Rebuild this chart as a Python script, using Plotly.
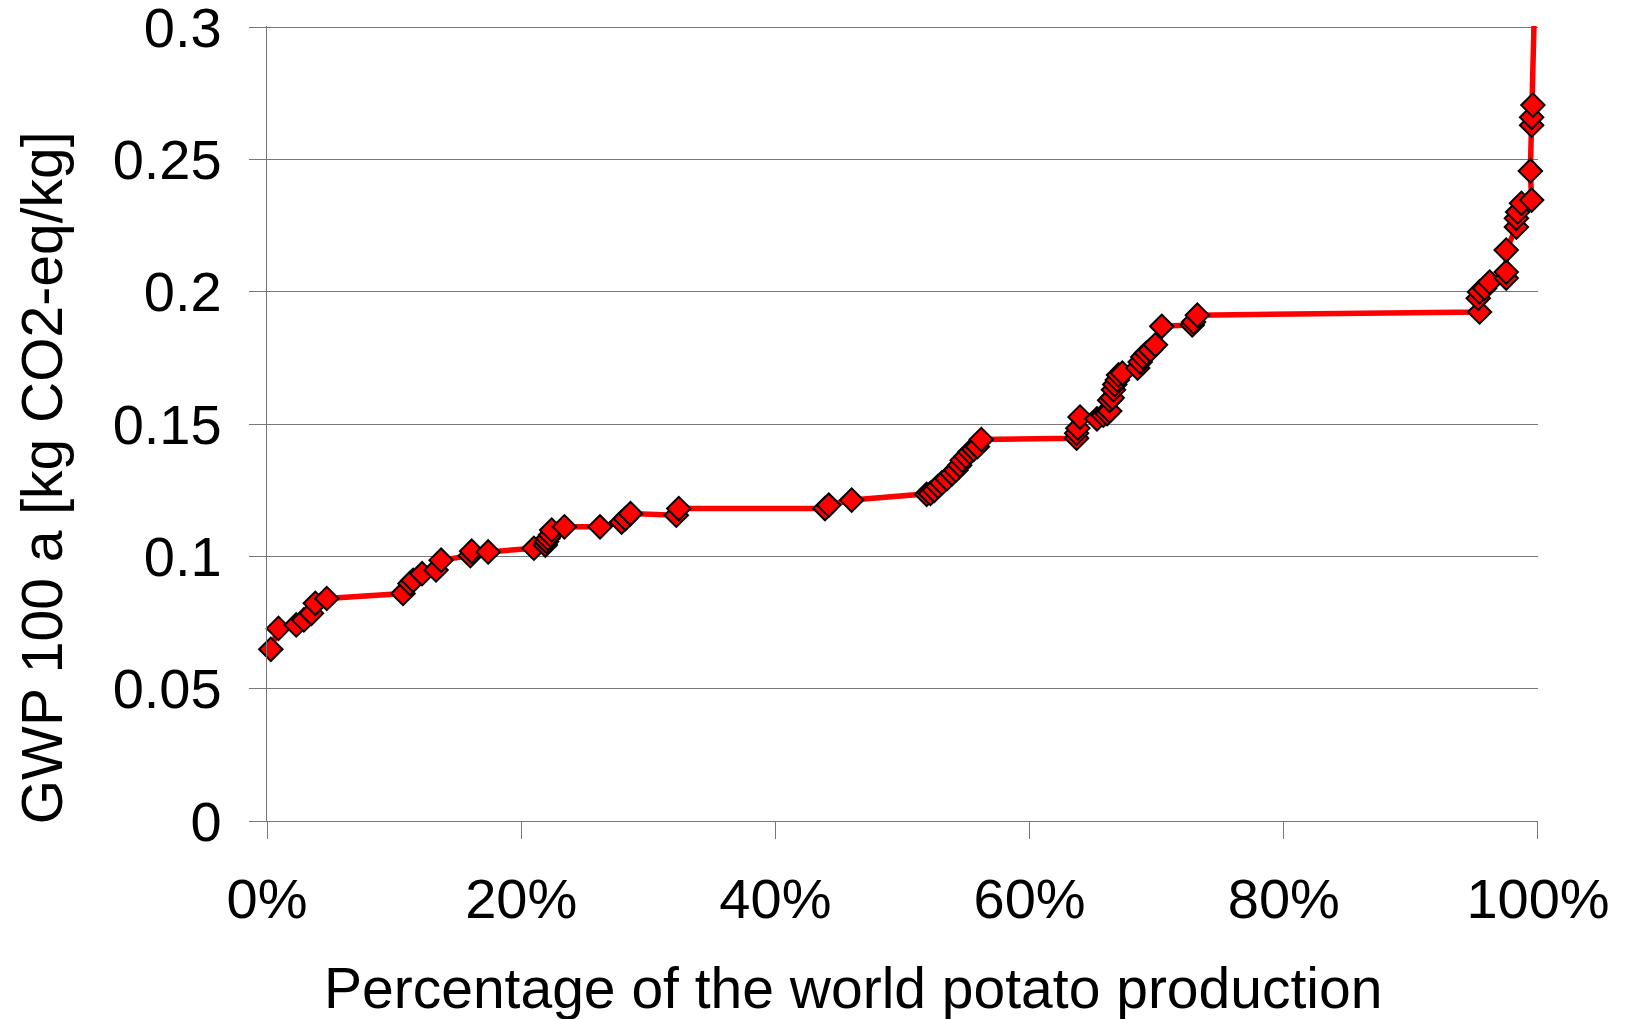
import plotly.graph_objects as go

# Cumulative share of world potato production (fraction, 0-1)
share = [0.003, 0.009, 0.023, 0.029, 0.035, 0.038, 0.047,
         0.107, 0.1125, 0.115, 0.122, 0.133, 0.137, 0.160, 0.161, 0.174,
         0.210, 0.219, 0.220, 0.221, 0.223, 0.224, 0.234, 0.262, 0.279, 0.282, 0.286,
         0.322, 0.324, 0.439, 0.442, 0.460,
         0.519, 0.522, 0.525, 0.528, 0.531, 0.535, 0.539, 0.542, 0.545, 0.547, 0.550,
         0.553, 0.556, 0.559, 0.562,
         0.637, 0.637, 0.638, 0.6397, 0.653, 0.658, 0.661, 0.663, 0.663, 0.665, 0.666,
         0.667, 0.669, 0.670, 0.673, 0.685, 0.687, 0.689, 0.692, 0.695, 0.699, 0.704,
         0.728, 0.729, 0.732,
         0.954, 0.953, 0.954, 0.958, 0.962, 0.975, 0.975, 0.975, 0.983, 0.983, 0.984,
         0.987, 0.995, 0.994, 0.995, 0.995, 0.996]

# GWP 100a [kg CO2-eq/kg]
gwp = [0.0649, 0.0728, 0.0741, 0.0760, 0.0785, 0.0823, 0.0841,
       0.0860, 0.0898, 0.0910, 0.0935, 0.0949, 0.0986, 0.1003, 0.1020, 0.1017,
       0.1031, 0.1043, 0.1056, 0.1068, 0.1081, 0.1100, 0.1112, 0.1112, 0.1130, 0.1143, 0.1162,
       0.1156, 0.1181, 0.1181, 0.1194, 0.1213,
       0.1235, 0.1238, 0.1250, 0.1265, 0.1278, 0.1294, 0.1313, 0.1326, 0.1345, 0.1364, 0.1378,
       0.1395, 0.1405, 0.1415, 0.1442,
       0.1447, 0.1466, 0.1485, 0.1527, 0.1520, 0.1534, 0.1540, 0.1550, 0.1590, 0.1600, 0.1630,
       0.1650, 0.1667, 0.1686, 0.1693, 0.1712, 0.1735, 0.1754, 0.1769, 0.1780, 0.1800, 0.1870,
       0.1875, 0.1886, 0.1912,
       0.1924, 0.1976, 0.2000, 0.2014, 0.2037, 0.2052, 0.2075, 0.2158, 0.2245, 0.2278, 0.2302,
       0.2335, 0.2347, 0.2457, 0.2630, 0.2660, 0.2706]

# Curve continues above the last marked country
tail_share = [0.996, 0.997]
tail_gwp = [0.2706, 0.304]

x_ticks = [0, 0.2, 0.4, 0.6, 0.8, 1.0]
x_ticktext = ["0%", "20%", "40%", "60%", "80%", "100%"]
y_ticks = [0, 0.05, 0.1, 0.15, 0.2, 0.25, 0.3]
y_ticktext = ["0", "0.05", "0.1", "0.15", "0.2", "0.25", "0.3"]
x_title = "Percentage of the world potato production"
y_title = "GWP 100 a [kg CO2-eq/kg]"

FONT = "Liberation Sans, Arial, sans-serif"
FS = 56
TFS = 57

fig = go.Figure()
fig.add_trace(go.Scatter(
    x=share + tail_share[1:], y=gwp + tail_gwp[1:], mode="lines",
    line=dict(color="#ff0000", width=5.5), hoverinfo="skip", showlegend=False))
fig.add_trace(go.Scatter(
    x=share, y=gwp, mode="markers",
    marker=dict(symbol="diamond", size=18, color="#ff0000",
                line=dict(color="#000000", width=2)),
    showlegend=False, cliponaxis=False))

axis_common = dict(
    showline=True, linecolor="#777777", linewidth=1.3,
    ticks="outside", ticklen=17, tickcolor="#777777", tickwidth=1.3,
    tickfont=dict(family=FONT, size=FS, color="#000000"),
    zeroline=False, ticklabeloverflow="allow",
)

fig.update_xaxes(
    range=[0, 1.00001], tickvals=x_ticks, ticktext=x_ticktext,
    showgrid=False, ticklabelstandoff=12, **axis_common)
fig.update_yaxes(
    range=[0, 0.3005], tickvals=y_ticks, ticktext=y_ticktext,
    showgrid=True, gridcolor="#777777", gridwidth=1.3, ticklabelstandoff=16,
    **axis_common)

fig.add_annotation(
    text=x_title, xref="paper", yref="paper", x=0.461, y=-0.210,
    xanchor="center", yanchor="middle", showarrow=False,
    font=dict(family=FONT, size=TFS, color="#000000"))
fig.add_annotation(
    text=y_title, xref="paper", yref="paper", x=-0.1773, y=0.432,
    xanchor="center", yanchor="middle", textangle=-90, showarrow=False,
    font=dict(family=FONT, size=TFS, color="#000000"))

fig.update_layout(
    width=1631, height=1019,
    margin=dict(l=259, r=101, t=18, b=206, autoexpand=False),
    plot_bgcolor="#ffffff", paper_bgcolor="#ffffff",
)

fig.write_html("out.html")
